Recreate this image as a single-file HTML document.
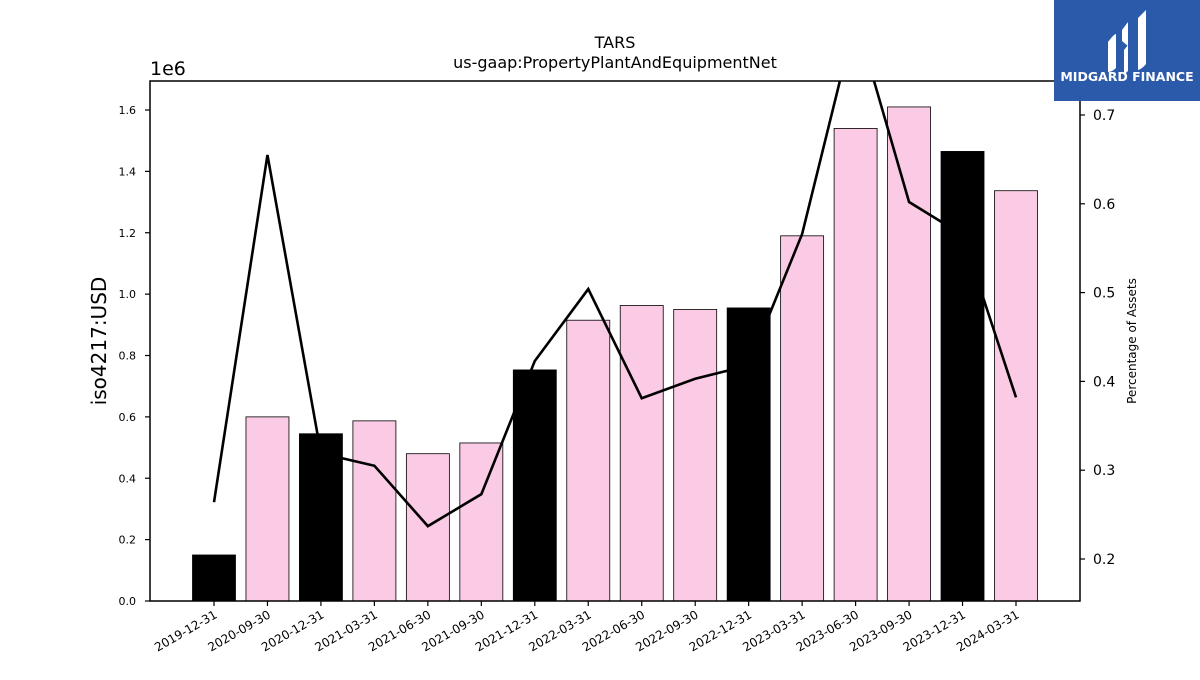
<!DOCTYPE html>
<html><head><meta charset="utf-8"><style>
body{margin:0;background:#fff;}
svg text{font-family:"DejaVu Sans","Liberation Sans",sans-serif;}
</style></head><body>
<svg width="1200" height="675" viewBox="0 0 1200 675" xmlns="http://www.w3.org/2000/svg">
<defs><clipPath id="pc"><rect x="150" y="81" width="930" height="520"/></clipPath></defs>
<text x="615" y="48" text-anchor="middle" font-size="16">TARS</text>
<text x="615" y="68" text-anchor="middle" font-size="16">us-gaap:PropertyPlantAndEquipmentNet</text>
<text x="150" y="75" font-size="19">1e6</text>
<text transform="translate(106,341) rotate(-90)" text-anchor="middle" font-size="20">iso4217:USD</text>
<text transform="translate(1136,341) rotate(-90)" text-anchor="middle" font-size="12">Percentage of Assets</text>
<g id="bars"></g>
<g id="line" clip-path="url(#pc)"></g>
<rect x="150" y="81" width="930" height="520" fill="none" stroke="#000" stroke-width="1.5"/>
<g id="axes"></g>
<g>
<rect x="1054" y="0" width="146" height="101" fill="#2b5aab"/>
<path d="M1108 42 q6-8 8-8 v34 q-4 4-8 4z M1122 30 l6-8 v24 l-6-5z M1124 50 l4 -5 v26 q-3 3-4 3z M1138 18 l8-8 v54 q-4 5-8 6z" fill="#fff"/>
<text x="1127" y="81" text-anchor="middle" font-size="12.5" font-weight="bold" fill="#fff" font-family="Liberation Sans,sans-serif">MIDGARD FINANCE</text>
</g>
</svg>
<script>
const categories=["2019-12-31","2020-09-30","2020-12-31","2021-03-31","2021-06-30","2021-09-30","2021-12-31","2022-03-31","2022-06-30","2022-09-30","2022-12-31","2023-03-31","2023-06-30","2023-09-30","2023-12-31","2024-03-31"];
const values=[0.15,0.60,0.545,0.587,0.48,0.515,0.753,0.915,0.963,0.95,0.955,1.19,1.54,1.61,1.465,1.337];
const percents=[0.264,0.655,0.319,0.305,0.237,0.273,0.423,0.504,0.381,0.403,0.418,0.566,0.81,0.602,0.565,0.382];
const yTicks=[0.0,0.2,0.4,0.6,0.8,1.0,1.2,1.4,1.6];
const y2Ticks=[0.2,0.3,0.4,0.5,0.6,0.7];
const NS="http://www.w3.org/2000/svg";
const x=i=>214+i*(1016-214)/15;
const y=v=>601-v*(601-110)/1.6;
const y2=v=>559-(v-0.2)*888;
function mk(t,a,p){const e=document.createElementNS(NS,t);for(const k in a)e.setAttribute(k,a[k]);p.appendChild(e);return e;}
const bars=document.getElementById('bars'),line=document.getElementById('line'),axes=document.getElementById('axes');
values.forEach((v,i)=>{const dec=categories[i].endsWith('12-31');
const r=mk('rect',{x:x(i)-21.5,y:y(v),width:43,height:601-y(v),fill:dec?'#000':'#fbcbe5',stroke:'#000','stroke-width':0.8},bars);

});
const pl=mk('polyline',{points:percents.map((p,i)=>x(i)+','+y2(p)).join(' '),fill:'none',stroke:'#000','stroke-width':2.6},line);


categories.forEach((c,i)=>{mk('line',{x1:x(i),x2:x(i),y1:601,y2:606,stroke:'#000','stroke-width':1.2},axes);
const t=mk('text',{transform:`translate(${x(i)+4},${617}) rotate(-30)`,'text-anchor':'end','font-size':12},axes);t.textContent=c;

});
yTicks.forEach(v=>{mk('line',{x1:145,x2:150,y1:y(v),y2:y(v),stroke:'#000','stroke-width':1.2},axes);
const t=mk('text',{x:136,y:y(v)+4,'text-anchor':'end','font-size':11},axes);t.textContent=v.toFixed(1);

});
y2Ticks.forEach(v=>{mk('line',{x1:1080,x2:1085,y1:y2(v),y2:y2(v),stroke:'#000','stroke-width':1.2},axes);
const t=mk('text',{x:1093,y:y2(v)+5,'font-size':14},axes);t.textContent=v.toFixed(1);

});
</script>
</body></html>
